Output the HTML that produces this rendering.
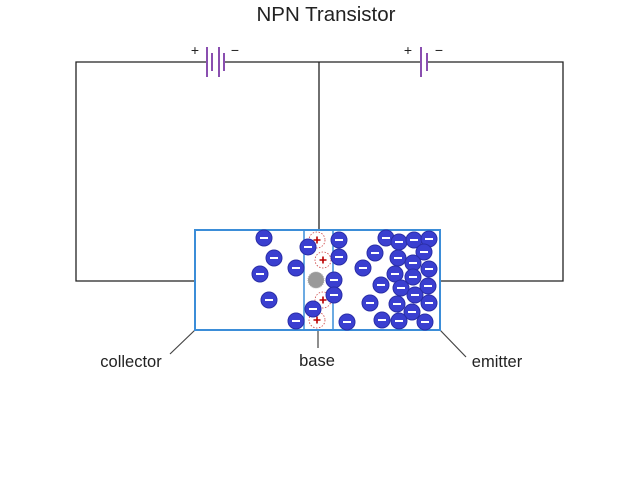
<!DOCTYPE html>
<html><head><meta charset="utf-8"><style>
html,body{margin:0;padding:0;background:#fff;}
svg{display:block;}
text{font-family:"Liberation Sans",Arial,sans-serif;fill:#222;}
</style></head><body>
<svg width="640" height="480" viewBox="0 0 640 480" xmlns="http://www.w3.org/2000/svg">
<defs>
<g id="e"><circle r="8" fill="#3a3fd0" stroke="#2a2ea8" stroke-width="1"/><rect x="-4" y="-1" width="8" height="2" fill="#fff"/></g>
<g id="h"><circle r="8" fill="none" stroke="#c44" stroke-width="0.8" stroke-dasharray="1.5,1.5"/><path d="M-3.5 0H3.5M0 -3.5V3.5" stroke="#b00" stroke-width="1.6"/></g>
</defs>
<text x="326" y="21" font-size="20.5" text-anchor="middle">NPN Transistor</text>
<g stroke="#222" stroke-width="1.3" fill="none">
<path d="M195 281H76V62H206"/>
<path d="M224 62H421"/>
<path d="M427 62H563V281H440"/>
<path d="M319 62V230"/>
</g>
<g stroke="#8a4fb0" stroke-width="2">
<path d="M207 47V77M212 53V71M219 47V77M224 53V71"/>
<path d="M421 47V77M427 53V71"/>
</g>
<text x="195" y="55" font-size="14" text-anchor="middle">+</text>
<text x="235" y="55" font-size="14" text-anchor="middle">−</text>
<text x="408" y="55" font-size="14" text-anchor="middle">+</text>
<text x="439" y="55" font-size="14" text-anchor="middle">−</text>
<g stroke="#444" stroke-width="1.2">
<path d="M170 354L195 330"/>
<path d="M440 330L466 357"/>
<path d="M318 330V348"/>
</g>
<rect x="195" y="230" width="245" height="100" fill="none" stroke="#3b8dd8" stroke-width="2"/>
<path d="M304 230V330M333 230V330" stroke="#3b8dd8" stroke-width="1.5"/>
<text x="131" y="367" font-size="16.5" text-anchor="middle">collector</text>
<text x="317" y="366" font-size="16.5" text-anchor="middle">base</text>
<text x="497" y="367" font-size="16.5" text-anchor="middle">emitter</text>
<circle cx="316" cy="280" r="8" fill="#999" stroke="#aaa" stroke-dasharray="1,1"/>
<use href="#h" x="317" y="240"/><use href="#h" x="323" y="260"/><use href="#h" x="323" y="300"/><use href="#h" x="317" y="320"/>
<use href="#e" x="264" y="238"/><use href="#e" x="274" y="258"/><use href="#e" x="260" y="274"/><use href="#e" x="296" y="268"/><use href="#e" x="269" y="300"/><use href="#e" x="296" y="321"/>
<use href="#e" x="308" y="247"/><use href="#e" x="313" y="309"/>
<use href="#e" x="339" y="240"/><use href="#e" x="339" y="257"/><use href="#e" x="334" y="280"/><use href="#e" x="334" y="295"/><use href="#e" x="347" y="322"/>
<use href="#e" x="386" y="238"/><use href="#e" x="399" y="242"/><use href="#e" x="414" y="240"/><use href="#e" x="429" y="239"/>
<use href="#e" x="375" y="253"/><use href="#e" x="398" y="258"/><use href="#e" x="424" y="252"/><use href="#e" x="413" y="263"/>
<use href="#e" x="363" y="268"/><use href="#e" x="395" y="274"/><use href="#e" x="413" y="277"/><use href="#e" x="429" y="269"/>
<use href="#e" x="381" y="285"/><use href="#e" x="401" y="288"/><use href="#e" x="415" y="295"/><use href="#e" x="428" y="286"/>
<use href="#e" x="370" y="303"/><use href="#e" x="397" y="304"/><use href="#e" x="412" y="312"/><use href="#e" x="429" y="303"/>
<use href="#e" x="382" y="320"/><use href="#e" x="399" y="321"/><use href="#e" x="425" y="322"/>
</svg>
</body></html>
